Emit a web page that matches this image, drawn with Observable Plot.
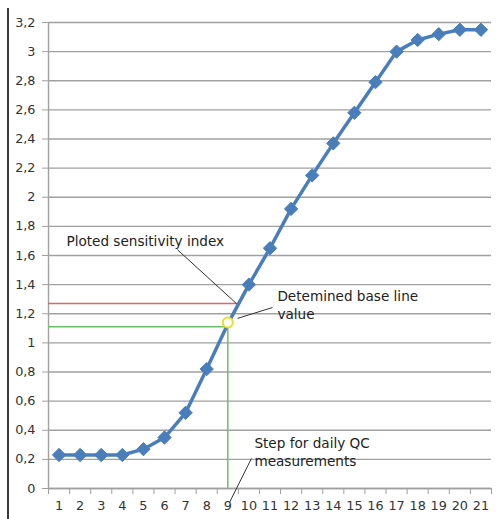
<!DOCTYPE html>
<html>
<head>
<meta charset="utf-8">
<script src="https://cdn.jsdelivr.net/npm/d3@7"></script>
<script src="https://cdn.jsdelivr.net/npm/@observablehq/plot@0.6"></script>
<style>
  html, body { margin: 0; padding: 0; background: #fff; }
  #wrap { position: relative; width: 499px; height: 519px; overflow: hidden; }
  #frame { position: absolute; left: 7px; top: 8px; width: 1.5px; height: 511px; background: #3a3a3a; }
</style>
</head>
<body>
<div id="wrap"><div id="frame"></div></div>
<script>
const categories = [1,2,3,4,5,6,7,8,9,10,11,12,13,14,15,16,17,18,19,20,21];
const values = [0.23,0.23,0.23,0.23,0.27,0.35,0.52,0.82,1.13,1.40,1.65,1.92,2.15,2.37,2.58,2.79,3.00,3.08,3.12,3.15,3.15];
const yTicks = [0,0.2,0.4,0.6,0.8,1,1.2,1.4,1.6,1.8,2,2.2,2.4,2.6,2.8,3,3.2];
const sensitivityIndex = 1.27;
const baseLineValue = 1.11;
const qcStep = 9;
const labels = ["Ploted sensitivity index", "Detemined base line\nvalue", "Step for daily QC\nmeasurements"];

const data = categories.map((c, i) => ({x: c, y: values[i]}));
const boundaries = d3.range(0.5, 21.6, 1);
const blue = "#4a7ebb";
const fmt = d => String(d).replace(".", ",");

const chart = Plot.plot({
  width: 499,
  height: 519,
  marginLeft: 48,
  marginRight: 8,
  marginTop: 22,
  marginBottom: 31,
  style: {fontFamily: "'DejaVu Sans', sans-serif", fontSize: "12.8px", color: "#333", background: "#fff"},
  x: {type: "linear", domain: [0.5, 21.5]},
  y: {domain: [0, 3.2]},
  marks: [
    Plot.gridY(yTicks, {stroke: "#a0a0a0", strokeOpacity: 1, strokeWidth: 1.4}),
    Plot.ruleX([0.5], {y1: 0, y2: 3.2, stroke: "#a0a0a0", strokeWidth: 1.4}),
    Plot.ruleY([0], {x1: 0.5, x2: 21.5, stroke: "#a0a0a0", strokeWidth: 1.4}),
    Plot.axisY(yTicks, {tickFormat: fmt, tickSize: 6, tickPadding: 7, stroke: "#a0a0a0", label: null, fill: "#333"}),
    Plot.axisX(boundaries, {tickFormat: () => "", tickSize: 6, stroke: "#a0a0a0", label: null}),
    Plot.axisX(categories, {tickFormat: d => String(d), tickSize: 0, tickPadding: 12, label: null, fill: "#333"}),
    Plot.ruleY([sensitivityIndex], {x1: 0.5, x2: 9.6, stroke: "#e06666", strokeWidth: 1.5}),
    Plot.ruleY([baseLineValue], {x1: 0.5, x2: qcStep, stroke: "#6cc06c", strokeWidth: 1.5}),
    Plot.ruleX([qcStep], {y1: 0, y2: baseLineValue, stroke: "#6cc06c", strokeWidth: 1.5}),
    Plot.line(data, {x: "x", y: "y", stroke: blue, strokeWidth: 3.5}),
    Plot.dot(data.filter(d => d.x !== qcStep), {x: "x", y: "y", symbol: "diamond2", r: 6, fill: blue, stroke: blue, strokeWidth: 1}),
    Plot.dot([{x: qcStep, y: 1.14}], {x: "x", y: "y", r: 5, fill: "#fff", stroke: "#e8e020", strokeWidth: 2}),
    Plot.link([{x1: 6.61, y1: 1.64, x2: 9.41, y2: 1.27}], {x1: "x1", y1: "y1", x2: "x2", y2: "y2", stroke: "#333", strokeWidth: 1}),
    Plot.link([{x1: 9.46, y1: 1.168, x2: 11.12, y2: 1.243}], {x1: "x1", y1: "y1", x2: "x2", y2: "y2", stroke: "#333", strokeWidth: 1}),
    Plot.link([{x1: 9.08, y1: -0.096, x2: 10.12, y2: 0.206}], {x1: "x1", y1: "y1", x2: "x2", y2: "y2", stroke: "#333", strokeWidth: 1}),
    Plot.text([{x: 1.35, y: 1.696, t: labels[0]}], {x: "x", y: "y", text: "t", textAnchor: "start", fill: "#222", fontSize: 13.6}),
    Plot.text([{x: 11.35, y: 1.264, t: labels[1]}], {x: "x", y: "y", text: "t", textAnchor: "start", lineAnchor: "middle", lineHeight: 1.3, fill: "#222", fontSize: 13.6}),
    Plot.text([{x: 10.26, y: 0.254, t: labels[2]}], {x: "x", y: "y", text: "t", textAnchor: "start", lineAnchor: "middle", lineHeight: 1.3, fill: "#222", fontSize: 13.6})
  ]
});
document.getElementById("wrap").appendChild(chart);
</script>
</body>
</html>
